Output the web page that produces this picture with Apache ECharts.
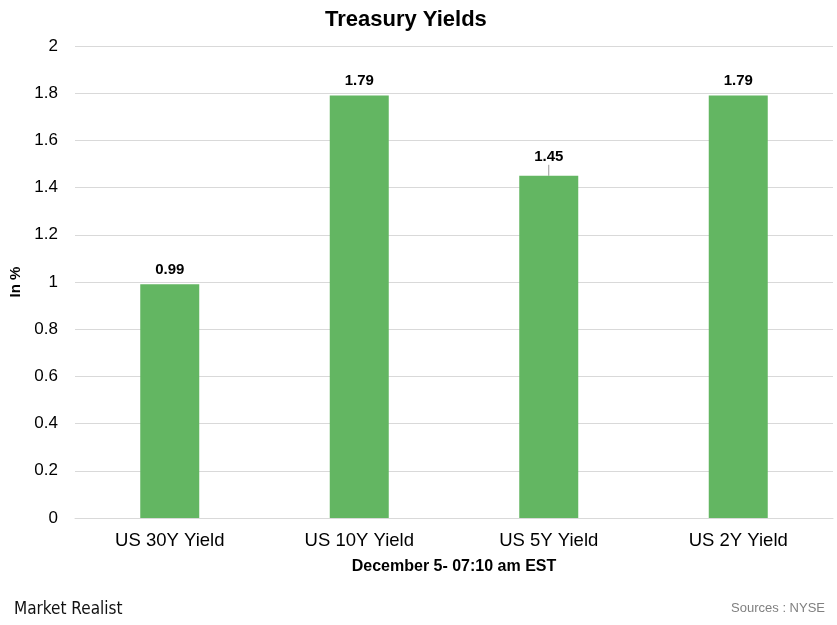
<!DOCTYPE html>
<html><head><meta charset="utf-8">
<script src="https://cdn.jsdelivr.net/npm/echarts@6/dist/echarts.min.js"></script>
<style>html,body{margin:0;padding:0;background:#fff}#c{width:837px;height:625px}</style>
</head><body><div id="c"></div>
<script>
const categories = ["US 30Y Yield", "US 10Y Yield", "US 5Y Yield", "US 2Y Yield"];
const yields = [0.99, 1.79, 1.45, 1.79];
const titleText = "Treasury Yields";
const yAxisName = "In %";
const xAxisName = "December 5- 07:10 am EST";
const sourceText = "Sources : NYSE";
const brandText = "Market Realist";

const font = "Liberation Sans, Arial, sans-serif";
const chart = echarts.init(document.getElementById('c'));
chart.setOption({
  animation: false,
  textStyle: { fontFamily: font },
  title: { text: titleText, left: 320, top: 4, textStyle: { fontFamily: font, fontSize: 22, fontWeight: 'bold', color: '#000' } },
  grid: { left: 75, right: 4, top: 46, bottom: 107, containLabel: false, outerBoundsMode: 'none' },
  xAxis: {
    type: 'category', data: categories,
    name: xAxisName, nameLocation: 'middle', nameGap: 41,
    nameTextStyle: { fontFamily: font, fontSize: 16, fontWeight: 'bold', color: '#000' },
    axisLine: { lineStyle: { color: '#d9d9d9' } }, axisTick: { show: false },
    axisLabel: { fontFamily: font, fontSize: 18.5, color: '#000', margin: 13 }
  },
  yAxis: {
    type: 'value', min: 0, max: 2, interval: 0.2,
    name: yAxisName, nameLocation: 'middle', nameGap: 52,
    nameTextStyle: { fontFamily: font, fontSize: 15, fontWeight: 'bold', color: '#000' },
    axisLine: { show: false }, axisTick: { show: false },
    axisLabel: { fontFamily: font, fontSize: 17, color: '#000', margin: 17, formatter: v => String(+v.toFixed(1)) },
    splitLine: { lineStyle: { color: '#d9d9d9' } }
  },
  series: [{
    type: 'bar',
    data: yields.map((v, i) => i === 2 ? { value: v, labelLine: { show: true, lineStyle: { color: '#999', width: 1 } } } : v),
    barWidth: 59,
    itemStyle: { color: '#63b662' },
    label: { show: true, position: 'top', distance: 7, fontFamily: font, fontSize: 15, fontWeight: 'bold', color: '#000' },
    labelLayout: p => p.dataIndex === 2 ? { dy: -4 } : {}
  }],
  graphic: [
    { type: 'text', left: 14, bottom: 7, style: { text: brandText, fontFamily: 'DejaVu Sans Condensed, DejaVu Sans, sans-serif', fontSize: 17, fill: '#111' } },
    { type: 'text', right: 12, bottom: 10, style: { text: sourceText, fontFamily: font, fontSize: 13, fill: '#808080' } }
  ]
});
</script></body></html>
